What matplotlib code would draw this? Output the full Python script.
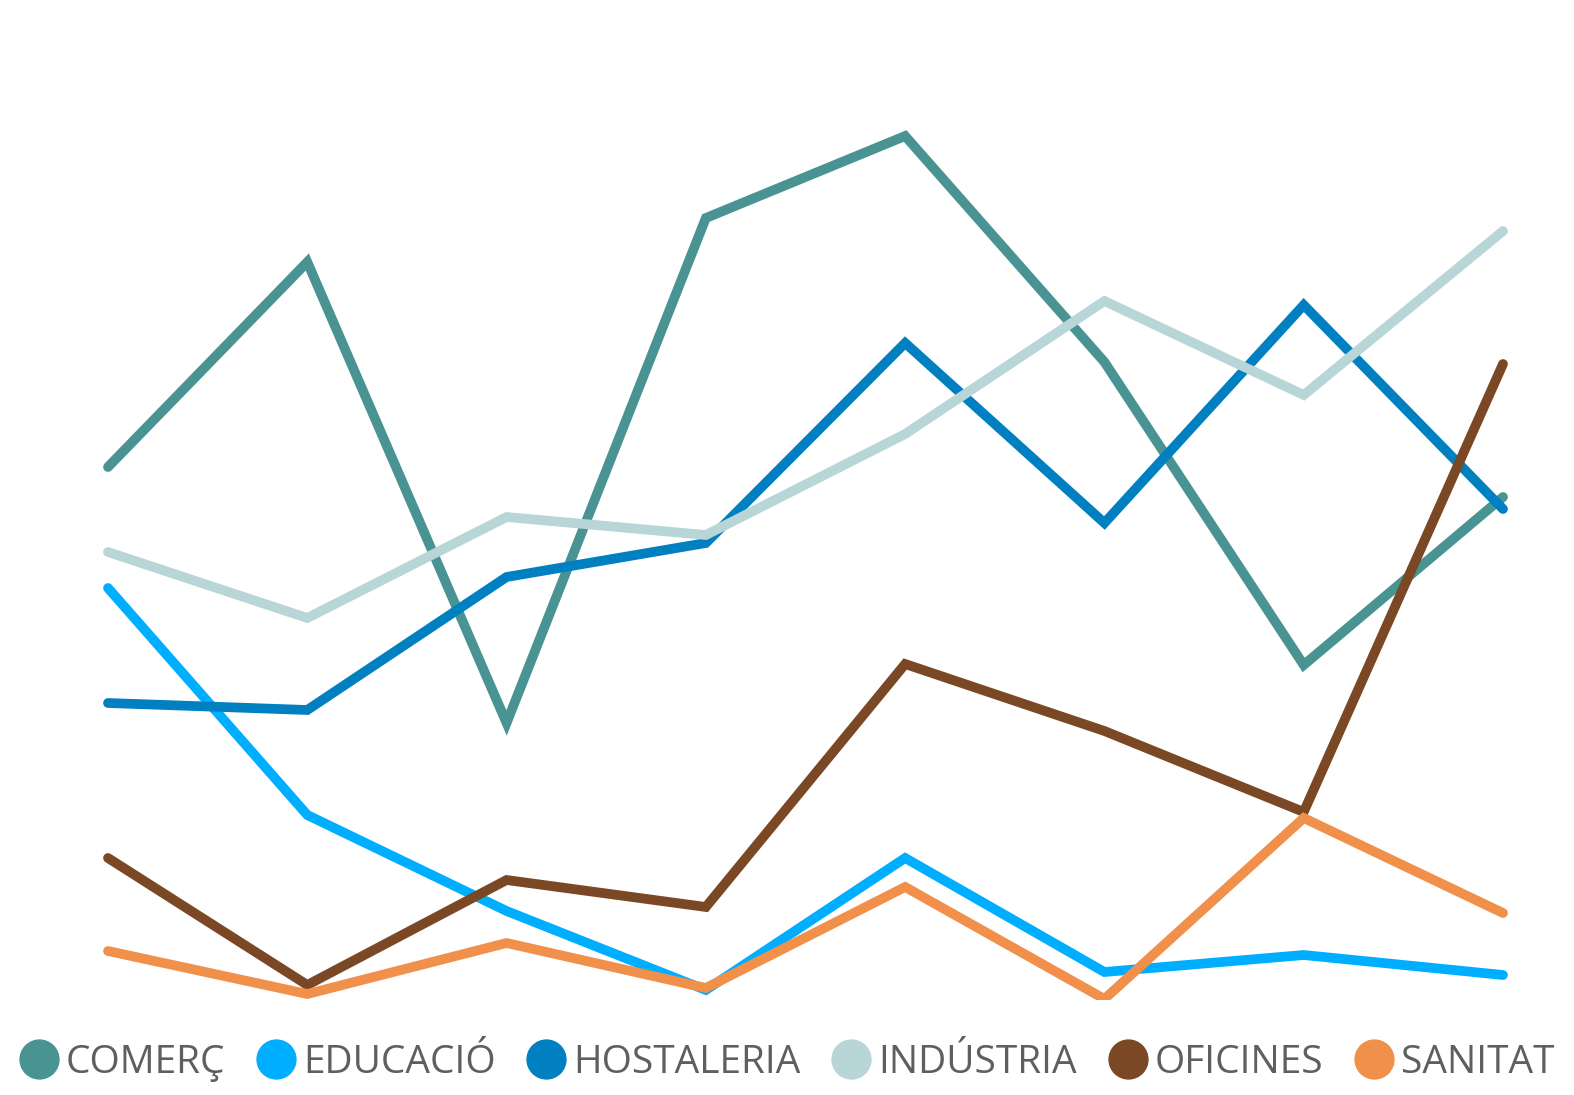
import matplotlib.pyplot as plt
from matplotlib.lines import Line2D

plt.rcParams['font.family'] = ['Open Sans', 'DejaVu Sans']

# series values (arbitrary units)
points = list(range(8))
comerc = [533, 738, 277, 782, 864, 638, 335, 503]
educacio = [412, 185, 89, 10, 142, 28, 45, 25]
hostaleria = [297, 290, 423, 457, 657, 477, 695, 491]
industria = [448, 382, 483, 465, 566, 699, 605, 769]
oficines = [142, 15, 120, 93, 336, 269, 188, 636]
sanitat = [49, 6, 57, 12, 113, 1, 182, 87]

names = ['COMERÇ', 'EDUCACIÓ', 'HOSTALERIA', 'INDÚSTRIA', 'OFICINES', 'SANITAT']
series = [comerc, educacio, hostaleria, industria, oficines, sanitat]
colors = ['#4a9393', '#00aeff', '#0080c0', '#b8d5d7', '#7a4824', '#f0904a']

fig = plt.figure(figsize=(15.74, 10.95), dpi=100)
ax = fig.add_axes([0, 95 / 1095, 1, 1000 / 1095])

for vals, c in zip(series, colors):
    ax.plot(points, vals, color=c, linewidth=7, solid_capstyle='round',
            solid_joinstyle='miter')

ax.set_xlim(-108 / 199.29, 7 + 71 / 199.29)
ax.set_ylim(0, 1000)
ax.axis('off')

handles = [Line2D([], [], linestyle='none', marker='o', markersize=28,
                  markerfacecolor=c, markeredgecolor=c) for c in colors]
fig.legend(handles, names, loc='center', bbox_to_anchor=(0.5, 1 - 1063 / 1095),
           ncol=6, frameon=False, fontsize=28, handletextpad=0.2,
           columnspacing=0.8, handlelength=1.0, labelcolor='#5f5f5f',
           borderaxespad=0, borderpad=0)

fig.savefig('out.png', dpi=100)
